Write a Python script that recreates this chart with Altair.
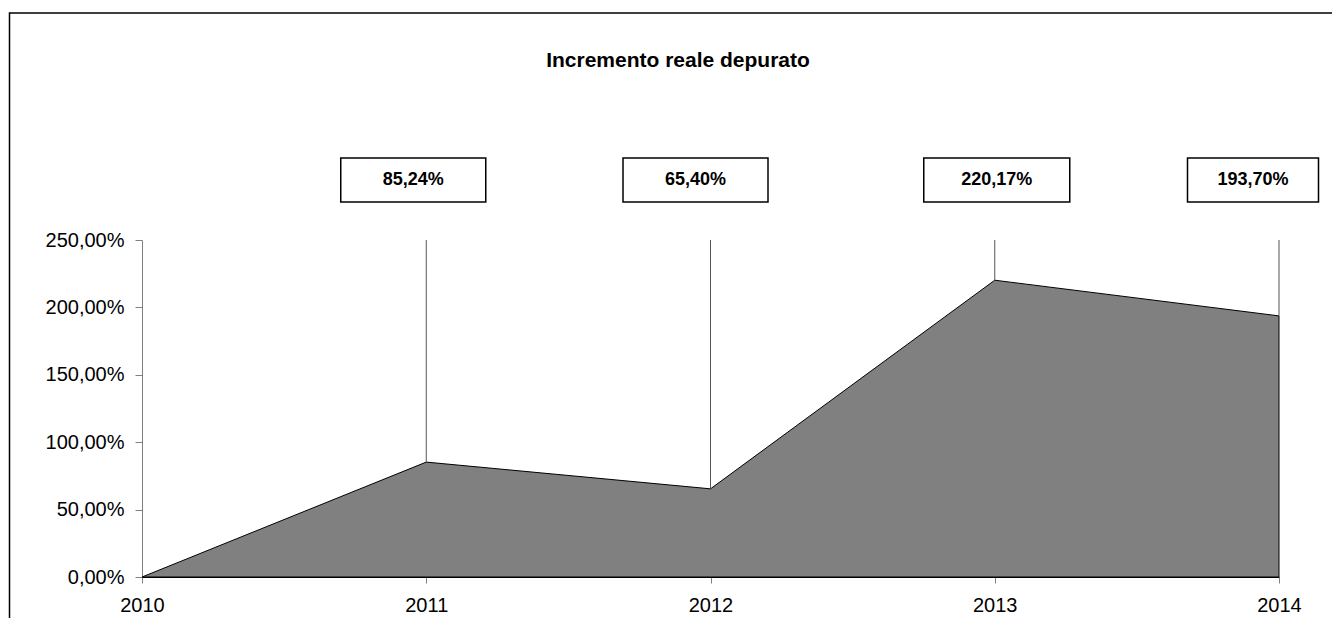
import altair as alt
import pandas as pd

years = [2010, 2011, 2012, 2013, 2014]
values = [0.0, 85.24, 65.40, 220.17, 193.70]
labels = ["", "85,24%", "65,40%", "220,17%", "193,70%"]
label_dx = [0, -13, -15, 2, -26]      # pixel shift of the label box
label_w = [0, 145, 145, 146, 131]      # box widths (px)
y_ticks = [0, 50, 100, 150, 200, 250]
title = "Incremento reale depurato"

W, H = 1137, 337
PX = 4.0 / W   # years per pixel
df = pd.DataFrame({"year": years, "value": values, "label": labels,
                   "dx": label_dx, "w": label_w})
lab = df[df["label"] != ""]

xs = alt.Scale(domain=[2010, 2014], nice=False, zero=False)
ys = alt.Scale(domain=[0, 250], nice=False)

x_axis = alt.Axis(values=years, format="d", labelFont="Liberation Sans", labelFontSize=20,
                  labelColor="#000", domainColor="#000", tickColor="#808080", tickSize=6,
                  labelPadding=12, labelFlush=False, grid=False, title=None)
y_axis = alt.Axis(values=y_ticks, labelExpr="replace(format(datum.value, '.2f'), '.', ',') + '%'",
                  labelFont="Liberation Sans", labelFontSize=20, labelColor="#000",
                  domainColor="#808080", tickColor="#808080", tickSize=7, labelPadding=11,
                  labelFlush=False, grid=False, title=None)

area = alt.Chart(df).mark_area(color="#808080", stroke="#000", strokeWidth=1).encode(
    x=alt.X("year:Q", scale=xs, axis=x_axis),
    y=alt.Y("value:Q", scale=ys, axis=y_axis),
)

leaders = alt.Chart(lab).mark_rule(color="#555", strokeWidth=1).encode(
    x=alt.X("year:Q", scale=xs),
    y=alt.Y("value:Q", scale=ys),
    y2=alt.value(0),
)

boxes = alt.Chart(lab).transform_calculate(
    xl=f"datum.year + (datum.dx - datum.w / 2) * {PX}",
    xr=f"datum.year + (datum.dx + datum.w / 2) * {PX}",
).mark_rect(fill="white", stroke="#000", strokeWidth=1.5).encode(
    x=alt.X("xl:Q", scale=xs),
    x2="xr:Q",
    y=alt.value(-82),
    y2=alt.value(-38),
)

texts = alt.Chart(lab).transform_calculate(
    xc=f"datum.year + datum.dx * {PX}"
).mark_text(font="Liberation Sans", fontSize=18, fontWeight="bold",
            color="#000", baseline="middle", align="center").encode(
    x=alt.X("xc:Q", scale=xs),
    y=alt.value(-60),
    text="label:N",
)

title_mark = alt.Chart(pd.DataFrame({"t": [title]})).mark_text(
    font="Liberation Sans", fontSize=21, fontWeight="bold", color="#000",
    align="center", baseline="alphabetic").encode(
    x=alt.value(536), y=alt.value(-173), text="t:N")

border = alt.Chart(pd.DataFrame({"a": [0]})).mark_rect(
    fill=None, stroke="#000", strokeWidth=1.5).encode(
    x=alt.value(-132.5), x2=alt.value(W + 200), y=alt.value(-227), y2=alt.value(H + 200))

chart = alt.layer(border, title_mark, area, leaders, boxes, texts).properties(
    width=W, height=H,
    background="white",
    autosize=alt.AutoSizeParams(type="none"),
    padding={"left": 134, "top": 232, "right": 53, "bottom": 41},
).configure_view(strokeWidth=0, stroke="transparent")

chart.save("out.html", embed_options={"renderer": "svg", "actions": False})
